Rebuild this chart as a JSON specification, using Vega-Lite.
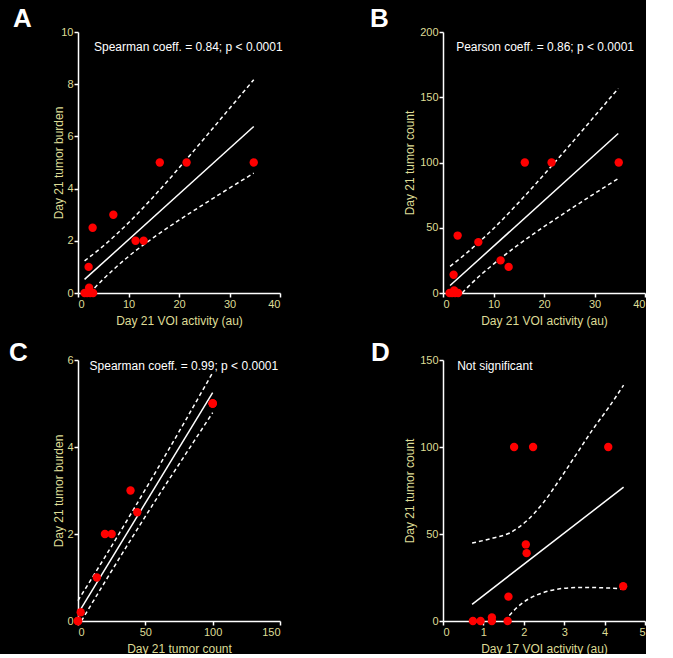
{
  "$schema": "https://vega.github.io/schema/vega-lite/v6.json",
  "background": "black",
  "padding": {"left": 9, "top": 6, "right": 0, "bottom": 0},
  "bounds": "flush",
  "columns": 2,
  "spacing": {"row": 67, "column": 163},
  "config": {
    "view": {"stroke": null},
    "font": "Liberation Sans",
    "axis": {
      "grid": false,
      "domainColor": "white",
      "domainWidth": 1.5,
      "tickColor": "white",
      "tickWidth": 1.5,
      "tickSize": 4,
      "labelColor": "#dedc96",
      "labelFont": "Liberation Sans",
      "labelFontSize": 11,
      "labelPadding": 1,
      "titleColor": "#dedc96",
      "titleFont": "Liberation Sans",
      "titleFontSize": 12,
      "titleFontWeight": "normal"
    },
    "axisX": {"titlePadding": 6},
    "title": {"anchor": "start", "frame": "group", "fontSize": 26, "fontWeight": "bold", "color": "white", "font": "Liberation Sans", "baseline": "alphabetic"}
  },
  "datasets": {
    "mice": [
      {"voi21": 34.8, "burden": 5, "count": 100},
      {"voi21": 16.2, "burden": 5, "count": 100},
      {"voi21": 21.5, "burden": 5, "count": 100},
      {"voi21": 7.0, "burden": 3, "count": 39},
      {"voi21": 2.9, "burden": 2.5, "count": 44},
      {"voi21": 11.4, "burden": 2, "count": 25},
      {"voi21": 13.0, "burden": 2, "count": 20},
      {"voi21": 2.1, "burden": 1, "count": 14},
      {"voi21": 2.2, "burden": 0.2, "count": 2},
      {"voi21": 1.3, "burden": 0, "count": 0},
      {"voi21": 1.8, "burden": 0, "count": 0},
      {"voi21": 3.0, "burden": 0, "count": 0},
      {"voi21": 2.4, "burden": 0, "count": 0}
    ],
    "d17": [
      {"voi17": 1.76, "count": 100},
      {"voi17": 2.23, "count": 100},
      {"voi17": 4.09, "count": 100},
      {"voi17": 2.05, "count": 44},
      {"voi17": 2.07, "count": 39},
      {"voi17": 4.46, "count": 20},
      {"voi17": 1.62, "count": 14},
      {"voi17": 1.21, "count": 2},
      {"voi17": 0.74, "count": 0},
      {"voi17": 0.93, "count": 0},
      {"voi17": 1.21, "count": 0},
      {"voi17": 1.60, "count": 0}
    ],
    "fits": [
      {"panel": "A", "band": "fit", "x": 1.3, "y": 0.52},
      {"panel": "A", "band": "fit", "x": 34.8, "y": 6.38},
      {"panel": "A", "band": "upper", "x": 1.3, "y": 1.23},
      {"panel": "A", "band": "upper", "x": 5, "y": 1.80},
      {"panel": "A", "band": "upper", "x": 10, "y": 2.69},
      {"panel": "A", "band": "upper", "x": 15, "y": 3.70},
      {"panel": "A", "band": "upper", "x": 20, "y": 4.79},
      {"panel": "A", "band": "upper", "x": 25, "y": 5.92},
      {"panel": "A", "band": "upper", "x": 30, "y": 7.07},
      {"panel": "A", "band": "upper", "x": 34.8, "y": 8.17},
      {"panel": "A", "band": "lower", "x": 2.3, "y": 0},
      {"panel": "A", "band": "lower", "x": 5, "y": 0.53},
      {"panel": "A", "band": "lower", "x": 10, "y": 1.40},
      {"panel": "A", "band": "lower", "x": 15, "y": 2.13},
      {"panel": "A", "band": "lower", "x": 20, "y": 2.79},
      {"panel": "A", "band": "lower", "x": 25, "y": 3.41},
      {"panel": "A", "band": "lower", "x": 30, "y": 4.02},
      {"panel": "A", "band": "lower", "x": 34.8, "y": 4.59},
      {"panel": "B", "band": "fit", "x": 1.4, "y": 5.7},
      {"panel": "B", "band": "fit", "x": 34.7, "y": 122.2},
      {"panel": "B", "band": "upper", "x": 1.4, "y": 20.4},
      {"panel": "B", "band": "upper", "x": 5, "y": 31.7},
      {"panel": "B", "band": "upper", "x": 10, "y": 49.4},
      {"panel": "B", "band": "upper", "x": 15, "y": 69.4},
      {"panel": "B", "band": "upper", "x": 20, "y": 90.7},
      {"panel": "B", "band": "upper", "x": 25, "y": 112.8},
      {"panel": "B", "band": "upper", "x": 30, "y": 135.4},
      {"panel": "B", "band": "upper", "x": 34.7, "y": 156.7},
      {"panel": "B", "band": "lower", "x": 3.8, "y": 0},
      {"panel": "B", "band": "lower", "x": 5, "y": 4.9},
      {"panel": "B", "band": "lower", "x": 10, "y": 22.1},
      {"panel": "B", "band": "lower", "x": 15, "y": 37.2},
      {"panel": "B", "band": "lower", "x": 20, "y": 50.8},
      {"panel": "B", "band": "lower", "x": 25, "y": 63.7},
      {"panel": "B", "band": "lower", "x": 30, "y": 76.2},
      {"panel": "B", "band": "lower", "x": 34.7, "y": 87.7},
      {"panel": "C", "band": "fit", "x": 0, "y": 0.17},
      {"panel": "C", "band": "fit", "x": 100, "y": 5.25},
      {"panel": "C", "band": "upper", "x": 0, "y": 0.47},
      {"panel": "C", "band": "upper", "x": 20, "y": 1.47},
      {"panel": "C", "band": "upper", "x": 40, "y": 2.50},
      {"panel": "C", "band": "upper", "x": 60, "y": 3.55},
      {"panel": "C", "band": "upper", "x": 80, "y": 4.62},
      {"panel": "C", "band": "upper", "x": 100, "y": 5.71},
      {"panel": "C", "band": "lower", "x": 2.5, "y": 0},
      {"panel": "C", "band": "lower", "x": 20, "y": 0.90},
      {"panel": "C", "band": "lower", "x": 40, "y": 1.91},
      {"panel": "C", "band": "lower", "x": 60, "y": 2.89},
      {"panel": "C", "band": "lower", "x": 80, "y": 3.84},
      {"panel": "C", "band": "lower", "x": 100, "y": 4.79},
      {"panel": "D", "band": "fit", "x": 0.72, "y": 9.6},
      {"panel": "D", "band": "fit", "x": 4.47, "y": 76.9},
      {"panel": "D", "band": "upper", "x": 0.72, "y": 44.8},
      {"panel": "D", "band": "upper", "x": 1.24, "y": 47.7},
      {"panel": "D", "band": "upper", "x": 1.65, "y": 50.6},
      {"panel": "D", "band": "upper", "x": 2.06, "y": 57.3},
      {"panel": "D", "band": "upper", "x": 2.48, "y": 67.9},
      {"panel": "D", "band": "upper", "x": 2.89, "y": 81.4},
      {"panel": "D", "band": "upper", "x": 3.30, "y": 95.8},
      {"panel": "D", "band": "upper", "x": 3.71, "y": 110.2},
      {"panel": "D", "band": "upper", "x": 4.13, "y": 123.7},
      {"panel": "D", "band": "upper", "x": 4.47, "y": 135.6},
      {"panel": "D", "band": "lower", "x": 1.53, "y": 0},
      {"panel": "D", "band": "lower", "x": 1.81, "y": 7.3},
      {"panel": "D", "band": "lower", "x": 2.15, "y": 13.1},
      {"panel": "D", "band": "lower", "x": 2.48, "y": 16.3},
      {"panel": "D", "band": "lower", "x": 2.89, "y": 18.5},
      {"panel": "D", "band": "lower", "x": 3.30, "y": 19.2},
      {"panel": "D", "band": "lower", "x": 3.71, "y": 19.2},
      {"panel": "D", "band": "lower", "x": 4.13, "y": 18.9},
      {"panel": "D", "band": "lower", "x": 4.47, "y": 18.3}
    ]
  },
  "concat": [
    {
      "width": 202, "height": 261,
      "title": {"text": "A", "dx": -65, "offset": -6},
      "layer": [
        {
          "data": {"name": "fits"},
          "transform": [{"filter": "datum.panel == 'A' && datum.band != 'fit'"}],
          "mark": {"type": "line", "color": "white", "strokeWidth": 1.5, "strokeDash": [4, 3], "interpolate": "monotone"},
          "encoding": {
            "x": {"field": "x", "type": "quantitative", "title": "Day 21 VOI activity (au)", "scale": {"domain": [0, 40], "nice": false}, "axis": {"values": [0, 10, 20, 30, 40]}},
            "y": {"field": "y", "type": "quantitative", "title": "Day 21 tumor burden", "scale": {"domain": [0, 10], "nice": false}, "axis": {"values": [0, 2, 4, 6, 8, 10], "titlePadding": -5}},
            "detail": {"field": "band"}
          }
        },
        {
          "data": {"name": "fits"},
          "transform": [{"filter": "datum.panel == 'A' && datum.band == 'fit'"}],
          "mark": {"type": "line", "color": "white", "strokeWidth": 1.5},
          "encoding": {
            "x": {"field": "x", "type": "quantitative", "title": "Day 21 VOI activity (au)"},
            "y": {"field": "y", "type": "quantitative", "title": "Day 21 tumor burden"}
          }
        },
        {
          "data": {"name": "mice"},
          "mark": {"type": "circle", "color": "#ff0000", "opacity": 1, "size": 70},
          "encoding": {
            "x": {"field": "voi21", "type": "quantitative", "title": "Day 21 VOI activity (au)"},
            "y": {"field": "burden", "type": "quantitative", "title": "Day 21 tumor burden"}
          }
        },
        {
          "data": {"values": [{}]},
          "mark": {"type": "text", "text": "Spearman coeff. = 0.84; p < 0.0001", "color": "white", "fontSize": 12, "align": "left", "baseline": "alphabetic", "font": "Liberation Sans"},
          "encoding": {"x": {"datum": 3.17}, "y": {"datum": 9.28}}
        }
      ]
    },
    {
      "width": 202, "height": 261,
      "title": {"text": "B", "dx": -73, "offset": -6},
      "layer": [
        {
          "data": {"name": "fits"},
          "transform": [{"filter": "datum.panel == 'B' && datum.band != 'fit'"}],
          "mark": {"type": "line", "color": "white", "strokeWidth": 1.5, "strokeDash": [4, 3], "interpolate": "monotone"},
          "encoding": {
            "x": {"field": "x", "type": "quantitative", "title": "Day 21 VOI activity (au)", "scale": {"domain": [0, 40], "nice": false}, "axis": {"values": [0, 10, 20, 30, 40]}},
            "y": {"field": "y", "type": "quantitative", "title": "Day 21 tumor count", "scale": {"domain": [0, 200], "nice": false}, "axis": {"values": [0, 50, 100, 150, 200], "titlePadding": 3}},
            "detail": {"field": "band"}
          }
        },
        {
          "data": {"name": "fits"},
          "transform": [{"filter": "datum.panel == 'B' && datum.band == 'fit'"}],
          "mark": {"type": "line", "color": "white", "strokeWidth": 1.5},
          "encoding": {
            "x": {"field": "x", "type": "quantitative", "title": "Day 21 VOI activity (au)"},
            "y": {"field": "y", "type": "quantitative", "title": "Day 21 tumor count"}
          }
        },
        {
          "data": {"name": "mice"},
          "mark": {"type": "circle", "color": "#ff0000", "opacity": 1, "size": 70},
          "encoding": {
            "x": {"field": "voi21", "type": "quantitative", "title": "Day 21 VOI activity (au)"},
            "y": {"field": "count", "type": "quantitative", "title": "Day 21 tumor count"}
          }
        },
        {
          "data": {"values": [{}]},
          "mark": {"type": "text", "text": "Pearson coeff. = 0.86; p < 0.0001", "color": "white", "fontSize": 12, "align": "left", "baseline": "alphabetic", "font": "Liberation Sans"},
          "encoding": {"x": {"datum": 2.6}, "y": {"datum": 185.6}}
        }
      ]
    },
    {
      "width": 202, "height": 261,
      "title": {"text": "C", "dx": -69, "offset": -12},
      "layer": [
        {
          "data": {"name": "fits"},
          "transform": [{"filter": "datum.panel == 'C' && datum.band != 'fit'"}],
          "mark": {"type": "line", "color": "white", "strokeWidth": 1.5, "strokeDash": [4, 3], "interpolate": "monotone"},
          "encoding": {
            "x": {"field": "x", "type": "quantitative", "title": "Day 21 tumor count", "scale": {"domain": [0, 150], "nice": false}, "axis": {"values": [0, 50, 100, 150]}},
            "y": {"field": "y", "type": "quantitative", "title": "Day 21 tumor burden", "scale": {"domain": [0, 6], "nice": false}, "axis": {"values": [0, 2, 4, 6], "titlePadding": 1}},
            "detail": {"field": "band"}
          }
        },
        {
          "data": {"name": "fits"},
          "transform": [{"filter": "datum.panel == 'C' && datum.band == 'fit'"}],
          "mark": {"type": "line", "color": "white", "strokeWidth": 1.5},
          "encoding": {
            "x": {"field": "x", "type": "quantitative", "title": "Day 21 tumor count"},
            "y": {"field": "y", "type": "quantitative", "title": "Day 21 tumor burden"}
          }
        },
        {
          "data": {"name": "mice"},
          "mark": {"type": "circle", "color": "#ff0000", "opacity": 1, "size": 70},
          "encoding": {
            "x": {"field": "count", "type": "quantitative", "title": "Day 21 tumor count"},
            "y": {"field": "burden", "type": "quantitative", "title": "Day 21 tumor burden"}
          }
        },
        {
          "data": {"values": [{}]},
          "mark": {"type": "text", "text": "Spearman coeff. = 0.99; p < 0.0001", "color": "white", "fontSize": 12, "align": "left", "baseline": "alphabetic", "font": "Liberation Sans"},
          "encoding": {"x": {"datum": 8.6}, "y": {"datum": 5.78}}
        }
      ]
    },
    {
      "width": 202, "height": 261,
      "title": {"text": "D", "dx": -72, "offset": -12},
      "layer": [
        {
          "data": {"name": "fits"},
          "transform": [{"filter": "datum.panel == 'D' && datum.band != 'fit'"}],
          "mark": {"type": "line", "color": "white", "strokeWidth": 1.5, "strokeDash": [4, 3], "interpolate": "monotone"},
          "encoding": {
            "x": {"field": "x", "type": "quantitative", "title": "Day 17 VOI activity (au)", "scale": {"domain": [0, 5], "nice": false}, "axis": {"values": [0, 1, 2, 3, 4, 5]}},
            "y": {"field": "y", "type": "quantitative", "title": "Day 21 tumor count", "scale": {"domain": [0, 150], "nice": false}, "axis": {"values": [0, 50, 100, 150], "titlePadding": 3}},
            "detail": {"field": "band"}
          }
        },
        {
          "data": {"name": "fits"},
          "transform": [{"filter": "datum.panel == 'D' && datum.band == 'fit'"}],
          "mark": {"type": "line", "color": "white", "strokeWidth": 1.5},
          "encoding": {
            "x": {"field": "x", "type": "quantitative", "title": "Day 17 VOI activity (au)"},
            "y": {"field": "y", "type": "quantitative", "title": "Day 21 tumor count"}
          }
        },
        {
          "data": {"name": "d17"},
          "mark": {"type": "circle", "color": "#ff0000", "opacity": 1, "size": 70},
          "encoding": {
            "x": {"field": "voi17", "type": "quantitative", "title": "Day 17 VOI activity (au)"},
            "y": {"field": "count", "type": "quantitative", "title": "Day 21 tumor count"}
          }
        },
        {
          "data": {"values": [{}]},
          "mark": {"type": "text", "text": "Not significant", "color": "white", "fontSize": 12, "align": "left", "baseline": "alphabetic", "font": "Liberation Sans"},
          "encoding": {"x": {"datum": 0.35}, "y": {"datum": 144.4}}
        }
      ]
    }
  ]
}
